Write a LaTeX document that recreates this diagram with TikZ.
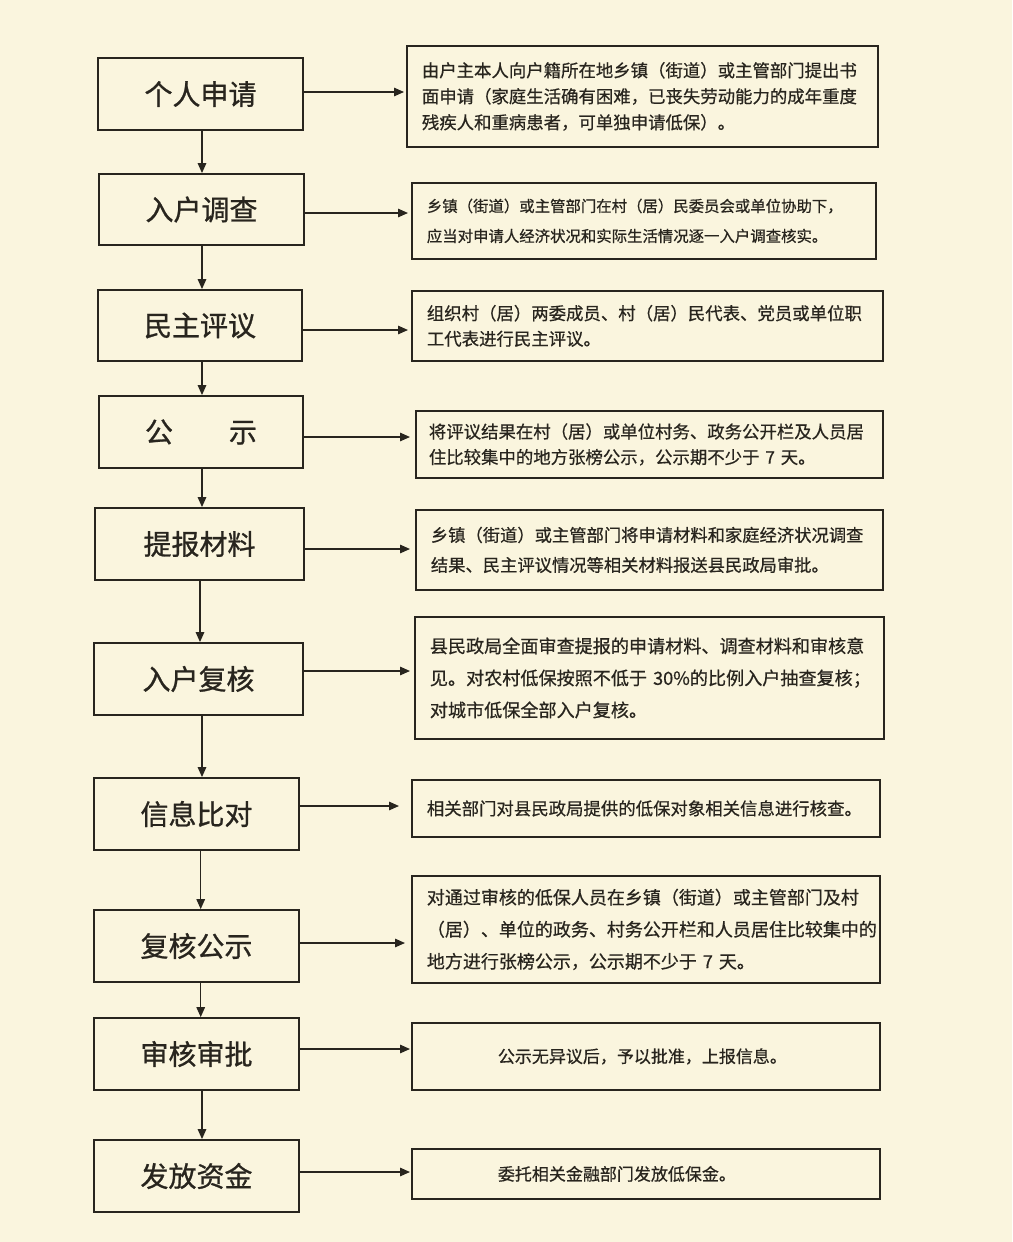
\documentclass[tikz,border=0pt]{standalone}
\usepackage{fontspec}
\newfontfamily\cjk{Noto Sans CJK SC}[FakeBold=0.6]
\newfontfamily\cjkl{Noto Sans CJK SC}[FakeBold=0.9]
\usetikzlibrary{arrows.meta}
\definecolor{bg}{RGB}{250,245,222}
\definecolor{ln}{RGB}{40,37,30}
\definecolor{tx}{RGB}{40,37,30}
\tikzset{
  lbox/.style={draw=ln, line width=1.8pt, rectangle, inner sep=0pt,
    font=\cjkl\fontsize{28}{30}\selectfont, text=ln},
  rbox/.style={draw=ln, line width=1.8pt, rectangle, anchor=north west,
    inner ysep=0pt, inner xsep=15pt, align=left, text=tx},
  arr/.style={draw=ln, line width=1.4pt, -{Triangle[length=10pt,width=8.5pt]}},
}
\begin{document}
\begin{tikzpicture}[x=1pt,y=-1pt]
\fill[bg] (0,0) rectangle (1012,1242);
\useasboundingbox (0,0) rectangle (1012,1242);

% left step boxes
\node[lbox, minimum width=205pt, minimum height=72pt] (L1) at (200.5,94) {个人申请};
\node[lbox, minimum width=205pt, minimum height=71pt] (L2) at (201.5,209.5) {入户调查};
\node[lbox, minimum width=204pt, minimum height=71pt] (L3) at (200,325.5) {民主评议};
\node[lbox, minimum width=204pt, minimum height=72pt] (L4) at (201,432) {公\hspace{2em}示};
\node[lbox, minimum width=209pt, minimum height=72pt] (L5) at (199.5,544) {提报材料};
\node[lbox, minimum width=209pt, minimum height=72pt] (L6) at (198.5,679) {入户复核};
\node[lbox, minimum width=205pt, minimum height=72pt] (L7) at (196.5,814) {信息比对};
\node[lbox, minimum width=205pt, minimum height=72pt] (L8) at (196.5,946) {复核公示};
\node[lbox, minimum width=205pt, minimum height=72pt] (L9) at (196.5,1054) {审核审批};
\node[lbox, minimum width=205pt, minimum height=72pt] (L10) at (196.5,1176) {发放资金};

% right description boxes
\node[rbox, minimum height=101pt, text width=441pt, font=\cjk\fontsize{17.4}{26}\selectfont] (R1) at (406,45)
  {由户主本人向户籍所在地乡镇（街道）或主管部门提出书\\面申请（家庭生活确有困难，已丧失劳动能力的成年重度\\残疾人和重病患者，可单独申请低保）。};
\node[rbox, minimum height=76pt, text width=434pt, font=\cjk\fontsize{15.4}{30}\selectfont] (R2) at (411,182)
  {乡镇（街道）或主管部门在村（居）民委员会或单位协助下，\\应当对申请人经济状况和实际生活情况逐一入户调查核实。};
\node[rbox, minimum height=70pt, text width=441pt, font=\cjk\fontsize{17.4}{25.5}\selectfont] (R3) at (411,290)
  {组织村（居）两委成员、村（居）民代表、党员或单位职\\工代表进行民主评议。};
\node[rbox, minimum height=67pt, inner xsep=13pt, text width=441pt, font=\cjk\fontsize{17.4}{25.5}\selectfont] (R4) at (415,410)
  {将评议结果在村（居）或单位村务、政务公开栏及人员居\\住比较集中的地方张榜公示，公示期不少于~7~天。};
\node[rbox, minimum height=80pt, text width=437pt, font=\cjk\fontsize{17.3}{30}\selectfont] (R5) at (415,509)
  {乡镇（街道）或主管部门将申请材料和家庭经济状况调查\\结果、民主评议情况等相关材料报送县民政局审批。};
\node[rbox, minimum height=122pt, text width=439pt, font=\cjk\fontsize{18.1}{32}\selectfont] (R6) at (414,616)
  {县民政局全面审查提报的申请材料、调查材料和审核意\\见。对农村低保按照不低于~30\%的比例入户抽查复核；\\对城市低保全部入户复核。};
\node[rbox, minimum height=57pt, text width=438pt, font=\cjk\fontsize{17.4}{26}\selectfont] (R7) at (411,779)
  {相关部门对县民政局提供的低保对象相关信息进行核查。};
\node[rbox, minimum height=107pt, text width=438pt, font=\cjk\fontsize{18}{32}\selectfont] (R8) at (411,875)
  {对通过审核的低保人员在乡镇（街道）或主管部门及村\\（居）、单位的政务、村务公开栏和人员居住比较集中的\\地方进行张榜公示，公示期不少于~7~天。};
\node[rbox, minimum height=67pt, inner xsep=86pt, text width=296pt, font=\cjk\fontsize{17}{26}\selectfont] (R9) at (411,1022)
  {公示无异议后，予以批准，上报信息。};
\node[rbox, minimum height=50pt, inner xsep=86pt, text width=296pt, font=\cjk\fontsize{17}{26}\selectfont] (R10) at (411,1148)
  {委托相关金融部门发放低保金。};

% vertical flow arrows
\draw[arr] (L1.south -| 202,0) -- (L2.north -| 202,0);
\draw[arr] (L2.south -| 202,0) -- (L3.north -| 202,0);
\draw[arr] (L3.south -| 202,0) -- (L4.north -| 202,0);
\draw[arr] (L4.south -| 202,0) -- (L5.north -| 202,0);
\draw[arr] (L5.south -| 200,0) -- (L6.north -| 200,0);
\draw[arr] (L6.south -| 202,0) -- (L7.north -| 202,0);
\draw[arr] (L7.south -| 200.7,0) -- (L8.north -| 200.7,0);
\draw[arr] (L8.south -| 200.7,0) -- (L9.north -| 200.7,0);
\draw[arr] (L9.south -| 202,0) -- (L10.north -| 202,0);

% horizontal arrows to descriptions
\draw[arr, shorten >=2pt] (L1.east |- 0,92) -- (R1.west |- 0,92);
\draw[arr, shorten >=3pt] (L2.east |- 0,213) -- (R2.west |- 0,213);
\draw[arr, shorten >=3pt] (L3.east |- 0,330) -- (R3.west |- 0,330);
\draw[arr, shorten >=5pt] (L4.east |- 0,437) -- (R4.west |- 0,437);
\draw[arr, shorten >=5pt] (L5.east |- 0,549) -- (R5.west |- 0,549);
\draw[arr, shorten >=4pt] (L6.east |- 0,671) -- (R6.west |- 0,671);
\draw[arr, shorten >=12pt] (L7.east |- 0,806) -- (R7.west |- 0,806);
\draw[arr, shorten >=6pt] (L8.east |- 0,943) -- (R8.west |- 0,943);
\draw[arr, shorten >=1pt] (L9.east |- 0,1049) -- (R9.west |- 0,1049);
\draw[arr, shorten >=1pt] (L10.east |- 0,1172) -- (R10.west |- 0,1172);
\end{tikzpicture}
\end{document}
